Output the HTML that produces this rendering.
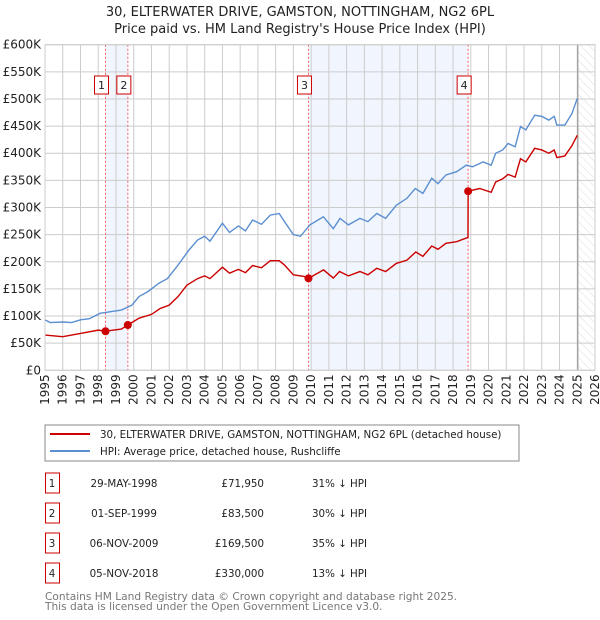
<!DOCTYPE html>
<html><head><meta charset="utf-8"><style>
body{margin:0;background:#fff;}
svg{display:block;font-family:"DejaVu Sans","Liberation Sans",sans-serif;}
</style></head><body>
<svg id="chart" width="600" height="620" viewBox="0 0 600 620">
<text x="300" y="16" text-anchor="middle" font-size="13" fill="#222">30, ELTERWATER DRIVE, GAMSTON, NOTTINGHAM, NG2 6PL</text>
<text x="300" y="33" text-anchor="middle" font-size="13" fill="#222">Price paid vs. HM Land Registry's House Price Index (HPI)</text>
<defs><pattern id="hatch" width="6" height="6" patternUnits="userSpaceOnUse" patternTransform="rotate(-45)"><line x1="0" y1="0" x2="0" y2="6" stroke="#ddd" stroke-width="1"/></pattern></defs>
<g id="plot"></g>
<rect x="45" y="425" width="474" height="36" fill="#fff" stroke="#888"/>
<line x1="50" y1="434" x2="90" y2="434" stroke="#cc0000" stroke-width="2"/>
<text x="100" y="438" font-size="10.3" fill="#222">30, ELTERWATER DRIVE, GAMSTON, NOTTINGHAM, NG2 6PL (detached house)</text>
<line x1="50" y1="451" x2="90" y2="451" stroke="#5b8fd0" stroke-width="2"/>
<text x="100" y="455" font-size="10.3" fill="#222">HPI: Average price, detached house, Rushcliffe</text>
<g id="table" font-size="10.3" fill="#222"></g>
<text x="45" y="600" font-size="10.6" fill="#777">Contains HM Land Registry data © Crown copyright and database right 2025.</text>
<text x="45" y="610" font-size="10.6" fill="#777">This data is licensed under the Open Government Licence v3.0.</text>
</svg>
<script>
const hpiYears=[1995.0,1995.3,1996.0,1996.5,1997.0,1997.5,1998.1,1998.7,1999.3,1999.9,2000.3,2000.8,2001.4,2001.9,2002.5,2003.1,2003.6,2004.0,2004.3,2005.0,2005.4,2005.9,2006.3,2006.7,2007.2,2007.7,2008.2,2008.5,2009.0,2009.4,2009.93,2010.69,2011.25,2011.63,2012.1,2012.75,2013.2,2013.7,2014.2,2014.8,2015.4,2015.87,2016.3,2016.8,2017.15,2017.6,2018.2,2018.75,2019.1,2019.7,2020.15,2020.4,2020.8,2021.1,2021.5,2021.8,2022.1,2022.6,2023.0,2023.4,2023.7,2023.85,2024.3,2024.7,2025.0];
const hpiValues=[93,88,89,88,93,95,105,108,111,120,136,145,160,169,194,221,240,247,238,271,254,266,257,277,269,286,289,274,250,247,268,283,261,280,268,280,274,289,280,304,317,335,326,354,344,360,366,378,375,384,378,400,406,418,412,449,443,470,468,461,468,452,452,473,501];
const ppYears=[1995.0,1996.0,1997.0,1998.0,1998.41,1999.3,1999.67,2000.3,2001.0,2001.5,2002.0,2002.5,2003.0,2003.6,2004.0,2004.3,2005.0,2005.4,2005.9,2006.3,2006.7,2007.2,2007.7,2008.2,2008.5,2009.0,2009.6,2009.85,2010.7,2011.25,2011.6,2012.1,2012.75,2013.2,2013.7,2014.2,2014.8,2015.4,2015.9,2016.3,2016.8,2017.15,2017.6,2018.2,2018.84,2018.85,2019.5,2020.15,2020.4,2020.8,2021.1,2021.5,2021.8,2022.1,2022.6,2023.0,2023.4,2023.7,2023.85,2024.3,2024.7,2025.0];
const ppValues=[65,62,68,74,72,76,83.5,96,103,114,120,136,157,169,174,169,190,179,186,180,193,189,202,202,194,176,173,169.5,185,170,182,174,182,176,188,182,197,203,218,210,229,223,234,237,245,330,335,328,347,353,361,356,390,384,409,406,400,406,392,395,414,433];
const saleLabels=["1","2","3","4"];
const saleYears=[1998.41,1999.67,2009.85,2018.85];
const salePrices=[71.95,83.5,169.5,330];
const saleDates=["29-MAY-1998","01-SEP-1999","06-NOV-2009","05-NOV-2018"];
const salePriceText=["£71,950","£83,500","£169,500","£330,000"];
const saleHpiText=["31% ↓ HPI","30% ↓ HPI","35% ↓ HPI","13% ↓ HPI"];
const yTicks=[0,50,100,150,200,250,300,350,400,450,500,550,600];
const yTickLabels=["£0","£50K","£100K","£150K","£200K","£250K","£300K","£350K","£400K","£450K","£500K","£550K","£600K"];
const xTicks=[1995,1996,1997,1998,1999,2000,2001,2002,2003,2004,2005,2006,2007,2008,2009,2010,2011,2012,2013,2014,2015,2016,2017,2018,2019,2020,2021,2022,2023,2024,2025,2026];

const X0=45,X1=595,Y0=370.3,Y1=44.7;
const x=v=>X0+(v-1995)/31*(X1-X0);
const y=v=>Y0+(v/600)*(Y1-Y0);
const NS="http://www.w3.org/2000/svg";
const plot=document.getElementById('plot');
function mk(tag,attrs,parent){const e=document.createElementNS(NS,tag);for(const k in attrs)e.setAttribute(k,attrs[k]);(parent||plot).appendChild(e);return e;}

for(let i=0;i<saleYears.length;i+=2){
  const r=mk('rect',{x:x(saleYears[i]),y:Y1,width:x(saleYears[i+1])-x(saleYears[i]),height:Y0-Y1,fill:'#eef3fd',opacity:0.8});
  
  
}
const h=mk('rect',{x:x(2025.03),y:Y1,width:X1-x(2025.03),height:Y0-Y1,fill:'url(#hatch)'});


yTicks.forEach((t,i)=>{
  const l=mk('line',{x1:X0,x2:X1,y1:y(t),y2:y(t),stroke:'#ccc','stroke-width':1});
  
  
  const tx=mk('text',{x:X0-4,y:y(t)+4,'text-anchor':'end','font-size':12,fill:'#222'});
  tx.textContent=yTickLabels[i];
  
  
});
xTicks.forEach(t=>{
  const l=mk('line',{x1:x(t),x2:x(t),y1:Y1,y2:Y0,stroke:'#ccc','stroke-width':1});
  
  
  const tx=mk('text',{x:0,y:0,'text-anchor':'end','font-size':12,fill:'#222',transform:`translate(${x(t)+4},${Y0+4}) rotate(-90)`});
  tx.textContent=t;
  
  
});
const vl=mk('line',{x1:x(2025.03),x2:x(2025.03),y1:Y1,y2:Y0,stroke:'#999','stroke-width':1.2});


saleYears.forEach(s=>{
  const l=mk('line',{x1:x(s),x2:x(s),y1:Y1,y2:Y0,stroke:'#f06060','stroke-width':1,'stroke-dasharray':'2,2'});
  
  
});
const hp=mk('polyline',{points:hpiYears.map((v,i)=>x(v)+','+y(hpiValues[i])).join(' '),fill:'none',stroke:'#5b8fd0','stroke-width':1.4});


const pp=mk('polyline',{points:ppYears.map((v,i)=>x(v)+','+y(ppValues[i])).join(' '),fill:'none',stroke:'#cc0000','stroke-width':1.4});


saleYears.forEach((s,i)=>{
  const c=mk('circle',{cx:x(s),cy:y(salePrices[i]),r:4,fill:'#cc0000'});
  
  
  const b=mk('rect',{x:x(s)-11,y:76,width:14,height:18,fill:'#fff',stroke:'#cc0000','stroke-width':1});
  
  
  const t=mk('text',{x:x(s)-4,y:89,'text-anchor':'middle','font-size':11,fill:'#222'});
  t.textContent=saleLabels[i];
  
  
});
mk('rect',{x:X0,y:Y1,width:X1-X0,height:Y0-Y1,fill:'none',stroke:'#ccc'});
const tb=document.getElementById('table');
saleLabels.forEach((lab,i)=>{
  const cy=483+i*30;
  const b=mk('rect',{x:45.5,y:cy-10,width:14,height:20,fill:'#fff',stroke:'#cc0000'},tb);
  
  
  const cols=[[52,'middle',lab,'table-row-number'],[124,'middle',saleDates[i],'table-date'],[264,'end',salePriceText[i],'table-price'],[312,'start',saleHpiText[i],'table-hpi-diff']];
  cols.forEach(c=>{
    const t=mk('text',{x:c[0],y:cy+4,'text-anchor':c[1]},tb);
    t.textContent=c[2];
    
    
  });
});
</script>
</body></html>
